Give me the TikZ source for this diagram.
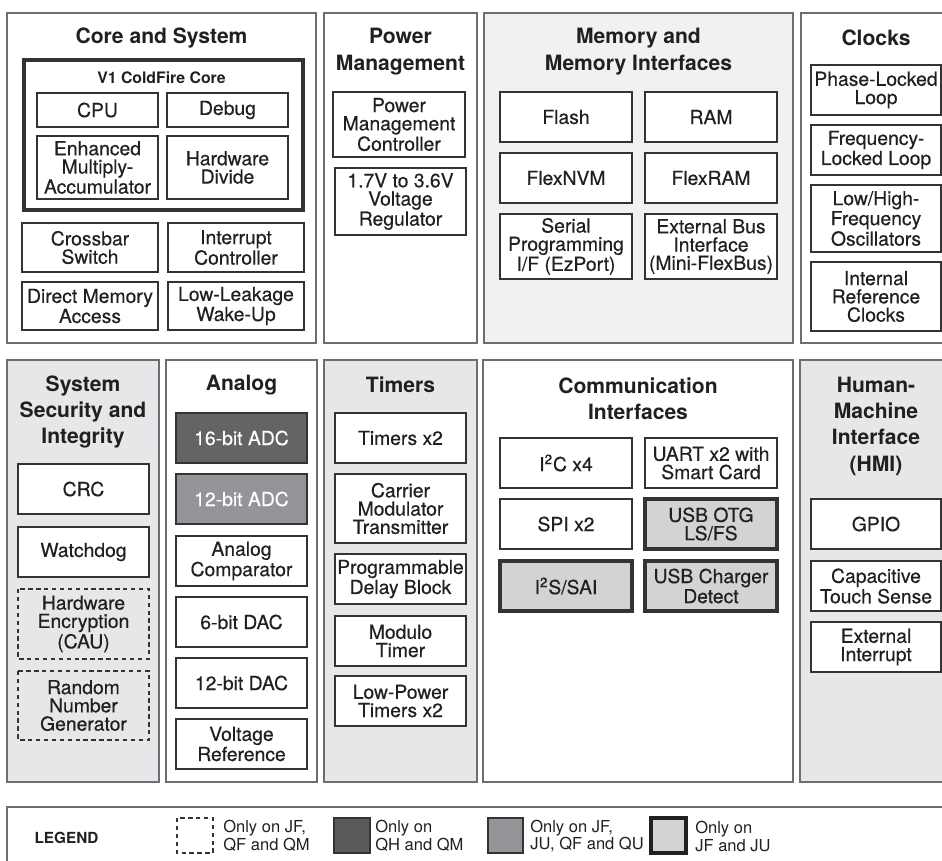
\documentclass[tikz,border=0pt]{standalone}
\usepackage{fontspec}
\setmainfont{TeX Gyre Heros}
\newfontfamily\medium[FakeBold=0.35]{TeX Gyre Heros}
\definecolor{ink}{HTML}{231F20}
\definecolor{panelline}{HTML}{6D6E71}
\definecolor{boxline}{HTML}{333333}
\definecolor{panelfill}{HTML}{E6E7E8}
\definecolor{memfill}{HTML}{F1F1F2}
\definecolor{darkfill}{HTML}{636466}
\definecolor{midfill}{HTML}{939598}
\definecolor{lightfill}{HTML}{D1D3D4}

\begin{document}
\begin{tikzpicture}[x=0.02cm, y=0.02cm,
  panel/.style={draw=panelline, line width=0.8pt},
  blk/.style={draw=boxline, line width=1pt, fill=white},
  heavy/.style={draw=boxline, line width=1.8pt, fill=lightfill},
  dashblk/.style={draw=boxline, line width=1pt, dash pattern=on 2.5pt off 2pt},
  ttl/.style={font=\bfseries\fontsize{12}{15}\selectfont, align=center, text=ink},
  lbl/.style={font=\medium\fontsize{11}{10.4}\selectfont, align=center, text=ink},
  leg/.style={font=\fontsize{9.4}{10.2}\selectfont, align=left, anchor=west, text=ink}]
\tikzset{every node/.append style={inner sep=0pt}}
\clip (0,0) rectangle (942,-860);
\fill [white] (0,0) rectangle (942,-860);
% top row
\draw [panel, fill=white] (7,-13) rectangle (316,-343);
\draw [panel, fill=white] (324,-13) rectangle (477,-343);
\draw [panel, fill=memfill] (484,-13) rectangle (793,-343);
\draw [panel, fill=white] (801,-13) rectangle (948,-343);
\node [ttl] (coresys) at (161.5,-38) {Core and System};
\node [ttl] (power) at (400.5,-51.5) {Power\\Management};
\node [ttl] (memory) at (638.5,-51.5) {Memory and\\Memory Interfaces};
\node [ttl] (clocks) at (876,-38) {Clocks};
% core and system
\draw [draw=boxline, line width=2.6pt] (24,-60) rectangle (303,-210);
\node [ttl, font=\bfseries\fontsize{9}{10}\selectfont] (v1core) at (161.5,-78) {V1 ColdFire Core};
\draw [blk] (37,-93) rectangle (158,-127);
\node [lbl] (cpu) at (97.5,-110) {CPU};
\draw [blk] (167,-93) rectangle (288,-127);
\node [lbl] (debug) at (227.5,-110) {Debug};
\draw [blk] (37,-136) rectangle (158,-199);
\node [lbl] (emac) at (97.5,-167.5) {Enhanced\\Multiply-\\Accumulator};
\draw [blk] (167,-136) rectangle (288,-199);
\node [lbl] (hwdiv) at (227.5,-167.5) {Hardware\\Divide};
\draw [blk] (22,-223) rectangle (158,-272);
\node [lbl] (xbar) at (90,-247.5) {Crossbar\\Switch};
\draw [blk] (168,-223) rectangle (304,-272);
\node [lbl] (intc) at (236,-247.5) {Interrupt\\Controller};
\draw [blk] (22,-282) rectangle (158,-330);
\node [lbl] (dma) at (90,-306) {Direct Memory\\Access};
\draw [blk] (168,-282) rectangle (304,-330);
\node [lbl] (llwu) at (236,-306) {Low-Leakage\\Wake-Up};
% power management
\draw [blk] (333,-92) rectangle (465,-157);
\node [lbl] (pmc) at (399,-124.5) {Power\\Management\\Controller};
\draw [blk] (335,-168) rectangle (466,-235);
\node [lbl] (vreg) at (400.5,-201.5) {1.7V to 3.6V\\Voltage\\Regulator};
% memory
\draw [blk] (500,-92) rectangle (632,-142);
\node [lbl] (flash) at (566,-117) {Flash};
\draw [blk] (500,-153) rectangle (632,-203);
\node [lbl] (flexnvm) at (566,-178) {FlexNVM};
\draw [blk] (500,-214) rectangle (632,-279);
\node [lbl] (ezport) at (566,-246.5) {Serial\\Programming\\I/F (EzPort)};
\draw [blk] (645,-92) rectangle (777,-142);
\node [lbl] (ram) at (711,-117) {RAM};
\draw [blk] (645,-153) rectangle (777,-203);
\node [lbl] (flexram) at (711,-178) {FlexRAM};
\draw [blk] (645,-214) rectangle (777,-279);
\node [lbl] (flexbus) at (711,-246.5) {External Bus\\Interface\\(Mini-FlexBus)};
% clocks
\draw [blk] (811,-65) rectangle (941,-115);
\node [lbl] (pll) at (876,-90) {Phase-Locked\\Loop};
\draw [blk] (811,-125) rectangle (941,-175);
\node [lbl] (fll) at (876,-150) {Frequency-\\Locked Loop};
\draw [blk] (811,-185) rectangle (941,-252);
\node [lbl] (osc) at (876,-218.5) {Low/High-\\Frequency\\Oscillators};
\draw [blk] (811,-262) rectangle (941,-331);
\node [lbl] (irc) at (876,-296.5) {Internal\\Reference\\Clocks};
% bottom row
\draw [panel, fill=panelfill] (7,-360) rectangle (159,-782);
\draw [panel, fill=white] (166,-360) rectangle (317,-782);
\draw [panel, fill=panelfill] (324,-360) rectangle (477,-782);
\draw [panel, fill=white] (483,-360) rectangle (793,-782);
\draw [panel, fill=panelfill] (800,-360) rectangle (948,-782);
\node [ttl] (security) at (83,-412) {System\\Security and\\Integrity};
\node [ttl] (analog) at (241.5,-385) {Analog};
\node [ttl] (timers) at (400.5,-385) {Timers};
\node [ttl] (comm) at (638,-398.5) {Communication\\Interfaces};
\node [ttl] (hmi) at (876,-426) {Human-\\Machine\\Interface\\(HMI)};
% security and integrity
\draw [blk] (18,-464) rectangle (149,-514);
\node [lbl] (crc) at (83.5,-489) {CRC};
\draw [blk] (18,-527) rectangle (149,-577);
\node [lbl] (wdog) at (83.5,-552) {Watchdog};
\draw [dashblk] (18,-589) rectangle (149,-659);
\node [lbl] (cau) at (83.5,-624) {Hardware\\Encryption\\(CAU)};
\draw [dashblk] (18,-671) rectangle (149,-740);
\node [lbl] (rng) at (83.5,-705.5) {Random\\Number\\Generator};
% analog
\draw [blk, fill=darkfill] (176,-413) rectangle (307,-463);
\node [lbl, text=white] (adc16) at (241.5,-438) {16-bit ADC};
\draw [blk, fill=midfill] (176,-474) rectangle (307,-524);
\node [lbl, text=white] (adc12) at (241.5,-499) {12-bit ADC};
\draw [blk] (176,-536) rectangle (307,-586);
\node [lbl] (cmp) at (241.5,-561) {Analog\\Comparator};
\draw [blk] (176,-597) rectangle (307,-647);
\node [lbl] (dac6) at (241.5,-622) {6-bit DAC};
\draw [blk] (176,-658) rectangle (307,-708);
\node [lbl] (dac12) at (241.5,-683) {12-bit DAC};
\draw [blk] (176,-719) rectangle (307,-769);
\node [lbl] (vref) at (241.5,-744) {Voltage\\Reference};
% timers
\draw [blk] (335,-413) rectangle (466,-463);
\node [lbl] (tpm) at (400.5,-438) {Timers x2};
\draw [blk] (335,-474) rectangle (466,-543);
\node [lbl] (cmt) at (400.5,-508.5) {Carrier\\Modulator\\Transmitter};
\draw [blk] (335,-554) rectangle (466,-604);
\node [lbl] (pdb) at (400.5,-579) {Programmable\\Delay Block};
\draw [blk] (335,-616) rectangle (466,-666);
\node [lbl] (mtim) at (400.5,-641) {Modulo\\Timer};
\draw [blk] (335,-676) rectangle (466,-726);
\node [lbl] (lptmr) at (400.5,-701) {Low-Power\\Timers x2};
% communication interfaces
\draw [blk] (500,-438) rectangle (632,-488);
\node [lbl] (iic) at (566,-463) {I\textsuperscript{2}C x4};
\draw [blk] (500,-499) rectangle (632,-549);
\node [lbl] (spi) at (566,-524) {SPI x2};
\draw [heavy] (500,-561) rectangle (632,-611);
\node [lbl] (sai) at (566,-586) {I\textsuperscript{2}S/SAI};
\draw [blk] (645,-438) rectangle (777,-488);
\node [lbl] (uart) at (711,-463) {UART x2 with\\Smart Card};
\draw [heavy] (645,-499) rectangle (777,-549);
\node [lbl] (usbotg) at (711,-524) {USB OTG\\LS/FS};
\draw [heavy] (645,-561) rectangle (777,-611);
\node [lbl] (usbdcd) at (711,-586) {USB Charger\\Detect};
% human-machine interface
\draw [blk] (811,-499) rectangle (941,-549);
\node [lbl] (gpio) at (876,-524) {GPIO};
\draw [blk] (811,-561) rectangle (941,-611);
\node [lbl] (tsi) at (876,-586) {Capacitive\\Touch Sense};
\draw [blk] (811,-622) rectangle (941,-672);
\node [lbl] (irq) at (876,-647) {External\\Interrupt};
% legend
\draw [panel, fill=white] (7,-807) rectangle (948,-870);
\node [text=ink, font=\bfseries\fontsize{8.7}{10}\selectfont] (legend) at (66.5,-838) {LEGEND};
\draw [dashblk, line width=0.8pt] (177,-818) rectangle (213,-853);
\node [leg] (legdash) at (223,-836) {Only on JF,\\QF and QM};
\draw [draw=boxline, line width=0.8pt, fill=darkfill!90!black] (334,-818) rectangle (370,-853);
\node [leg] (legdark) at (375,-836) {Only on\\QH and QM};
\draw [draw=boxline, line width=0.8pt, fill=midfill] (488,-818) rectangle (523,-853);
\node [leg] (legmid) at (530,-836) {Only on JF,\\JU, QF and QU};
\draw [draw=ink, line width=1.8pt, fill=lightfill] (651,-818) rectangle (686,-853);
\node [leg] (leglight) at (695,-836) {Only on\\JF and JU};
\end{tikzpicture}
\end{document}
